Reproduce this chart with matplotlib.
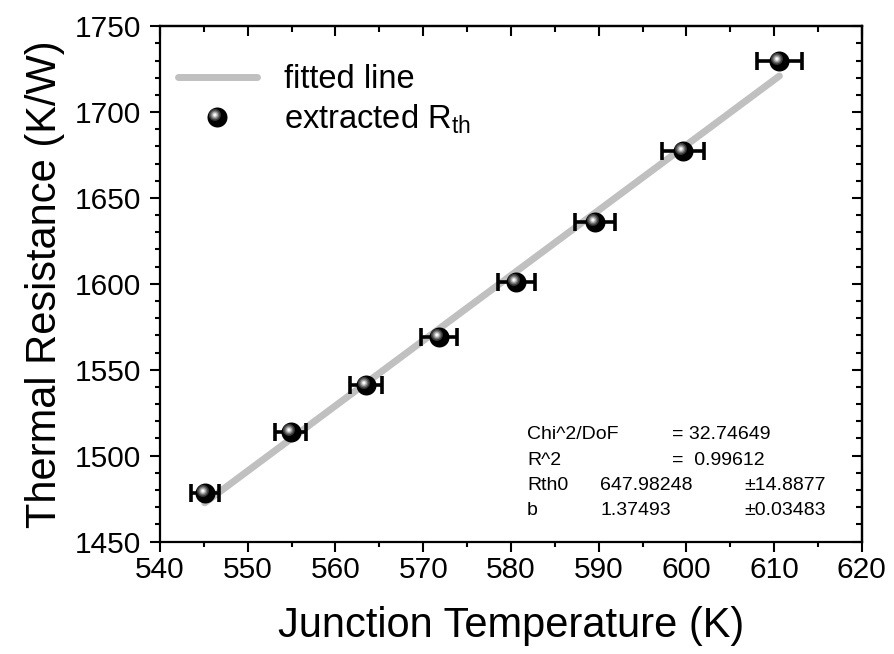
import numpy as np
import matplotlib
matplotlib.use("Agg")
import matplotlib.pyplot as plt
from matplotlib.path import Path
from matplotlib.ticker import MultipleLocator
from matplotlib.lines import Line2D

plt.rcParams['font.family'] = ['Liberation Sans', 'DejaVu Sans']
plt.rcParams['mathtext.fontset'] = 'custom'
plt.rcParams['mathtext.rm'] = 'Liberation Sans'
plt.rcParams['mathtext.it'] = 'Liberation Sans'

# ---- data ----
temp_K = [545.1, 554.9, 563.5, 571.8, 580.6, 589.6, 599.6, 610.6]
rth_KW = [1478, 1514, 1541, 1569, 1601, 1636, 1677.5, 1730]
temp_err = [1.6, 1.75, 1.86, 2.0, 2.1, 2.28, 2.4, 2.58]
fit_x = [545.1, 610.6]
fit_y = [1472.5, 1721.0]
fit_rows = [("Chi^2/DoF", "", "= 32.74649"),
            ("R^2", "", "=  0.99612"),
            ("Rth0", "647.98248", "\u00b114.8877"),
            ("b", "1.37493", "\u00b10.03483")]
xticks = [540, 550, 560, 570, 580, 590, 600, 610, 620]
yticks = [1450, 1500, 1550, 1600, 1650, 1700, 1750]

fig = plt.figure(figsize=(8.94, 6.54), dpi=100)
ax = fig.add_axes([0.179, 0.172, 0.785, 0.788])

PX = 0.72  # points per pixel at dpi 100


def offset_circle(r, d):
    """circle of radius r centred at (-d, +d) (marker units, normalised later)"""
    t = np.linspace(0, 2 * np.pi, 64)
    verts = np.column_stack([r * np.cos(t) - d, r * np.sin(t) + d])
    return Path(verts, closed=True)


# sphere-like marker layers: (radius px, offset px, colour)
layers = [(6.0, 2.6, '#3a3a3a'), (4.5, 2.6, '#707070'), (3.2, 2.6, '#a8a8a8'),
          (2.0, 2.6, '#e0e0e0'), (1.0, 2.6, '#ffffff')]

# fitted line
ax.plot(fit_x, fit_y, color='#c0c0c0', lw=5, solid_capstyle='round', zorder=1)

# error bars + base black sphere
ax.errorbar(temp_K, rth_KW, xerr=temp_err, fmt='none', ecolor='black',
            elinewidth=2.6, capsize=6.8, capthick=2.6, zorder=2)
base = ax.plot(temp_K, rth_KW, 'o', ms=20 * PX, mfc='black', mec='black',
               mew=0, zorder=3)[0]
hl_handles = [base]
for i, (r, d, c) in enumerate(layers):
    h = ax.plot(temp_K, rth_KW, linestyle='none', marker=offset_circle(r, d),
                ms=2 * (r + d) * PX, mfc=c, mec=c, mew=0, zorder=4 + i)[0]
    hl_handles.append(h)

ax.set_xlim(540, 620)
ax.set_ylim(1450, 1750)
ax.set_xticks(xticks)
ax.set_yticks(yticks)
ax.xaxis.set_minor_locator(MultipleLocator(5))
ax.yaxis.set_minor_locator(MultipleLocator(10))
ax.tick_params(which='both', direction='out', width=1.5, labelsize=21.5,
               top=False, right=False)
ax.tick_params(which='major', length=7.5)
ax.tick_params(which='minor', length=3.5)
ax.tick_params(axis='x', pad=3)
ax.tick_params(axis='y', pad=6)
for s in ax.spines.values():
    s.set_linewidth(1.6)

# mirrored inward ticks on top / right
secx = ax.secondary_xaxis('top')
secx.set_xticks(xticks)
secx.xaxis.set_minor_locator(MultipleLocator(5))
secx.tick_params(which='both', direction='in', width=1.5, labeltop=False)
secx.tick_params(which='major', length=7.5)
secx.tick_params(which='minor', length=4)
secx.spines['top'].set_linewidth(1.6)
secy = ax.secondary_yaxis('right')
secy.set_yticks(yticks)
secy.yaxis.set_minor_locator(MultipleLocator(10))
secy.tick_params(which='both', direction='in', width=1.5, labelright=False)
secy.tick_params(which='major', length=7.5)
secy.tick_params(which='minor', length=4)
secy.spines['right'].set_linewidth(1.6)

ax.set_xlabel('Junction Temperature (K)', fontsize=30, labelpad=16)
ax.set_ylabel('Thermal Resistance (K/W)', fontsize=30, labelpad=7)

# legend
line_h = Line2D([], [], color='#c0c0c0', lw=5, solid_capstyle='round')
leg = ax.legend([line_h, tuple(hl_handles)],
                ['fitted line', 'extracted R$_{\\mathrm{th}}$'],
                loc='upper left', bbox_to_anchor=(0.012, 0.945), frameon=False,
                fontsize=23.5, handlelength=2.4, handletextpad=0.85,
                labelspacing=0.22, borderaxespad=0, borderpad=0.3)

# fit results
col_x = [0.523, 0.627, 0.729]
row_y = [0.2085, 0.158, 0.109, 0.061]
for (a, b, c), yy in zip(fit_rows, row_y):
    for txt, xx in zip((a, b, c), col_x):
        if txt:
            if txt.startswith('\u00b1'):
                xx = 0.833
            ax.text(xx, yy, txt, transform=ax.transAxes, fontsize=14,
                    va='center', ha='left')

fig.savefig('out.png', dpi=100)
